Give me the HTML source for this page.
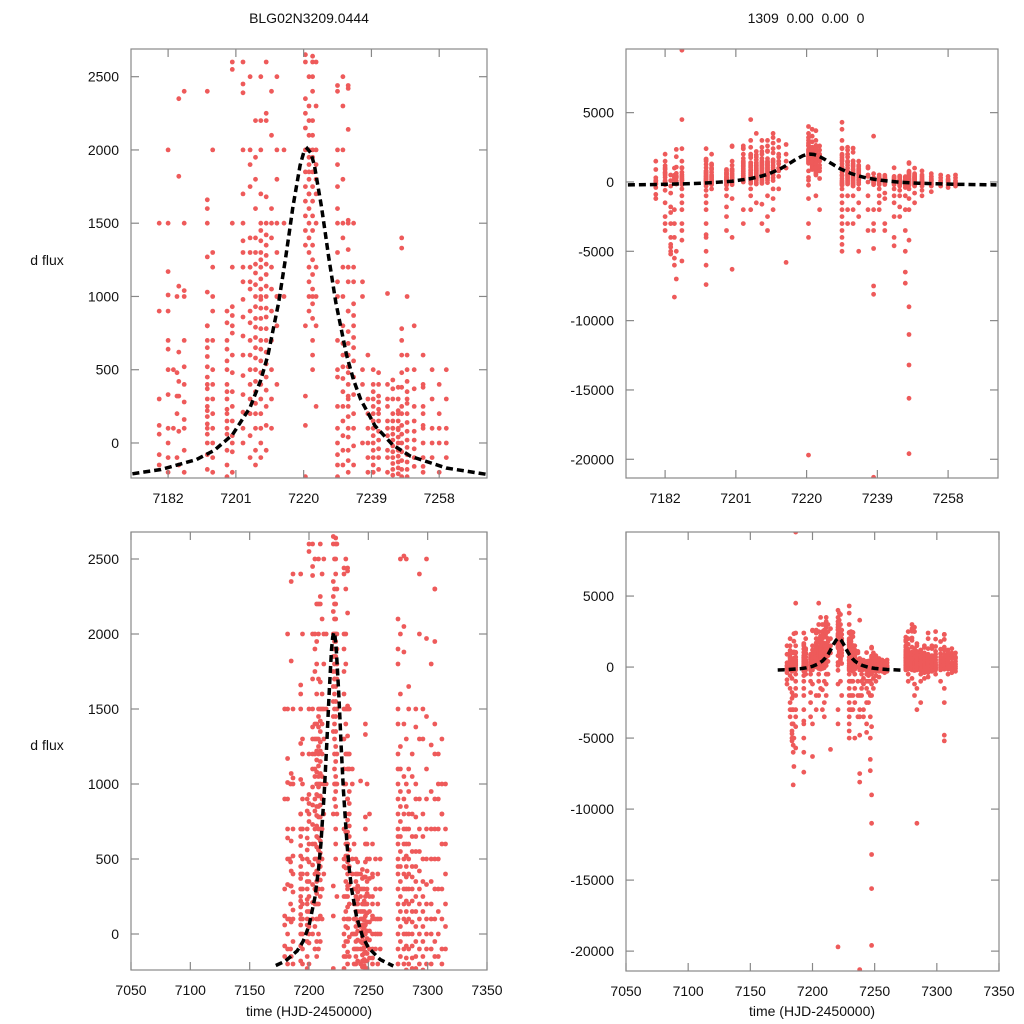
<!DOCTYPE html>
<html><head><meta charset="utf-8"><style>
html,body{margin:0;padding:0;background:#fff;width:1024px;height:1024px;overflow:hidden;position:relative}
svg{display:block;position:absolute;left:0;top:0;overflow:hidden}
text{font-family:"Liberation Sans",sans-serif;font-size:14px;fill:#111}
</style></head><body>
<svg id="chart" width="1024" height="1024" viewBox="0 0 1024 1024" xmlns="http://www.w3.org/2000/svg">
<text x="309" y="23" text-anchor="middle">BLG02N3209.0444</text>
<text x="806" y="23" text-anchor="middle" xml:space="preserve">1309  0.00  0.00  0</text>
<text x="47" y="265" text-anchor="middle">d flux</text>
<text x="47" y="750" text-anchor="middle">d flux</text>
<text x="309" y="1016" text-anchor="middle">time (HJD-2450000)</text>
<text x="812" y="1016" text-anchor="middle">time (HJD-2450000)</text>
</svg>
<script>
const stripeTimes=[7179.5,7182,7183.5,7184.5,7185,7186.5,7193,7194.5,7198.5,7200,7203,7205,7206.5,7208,7209.5,7211,7212.5,7214.5,7220.5,7221.5,7222.5,7223.5,7229.5,7231,7232.5,7234,7236.5,7238,7239.5,7241,7243.5,7245,7246.5,7247.5,7249,7251,7253.5,7256,7258,7260,
7275,7277,7280,7282,7284,7287,7290,7293,7296,7299,7303,7306,7309,7312,7315];
const stripeFlux=[
[-80,60,120,-150,-900,-400,300,900,-1200,1500],
[1500,1170,1010,640,330,100,0,-100,-200,-600,-1500,-2500,-3000,-3500,2000,500,700,900],
[-1800,-3000,-4000,-4700,-5000,-5200,-4500,-2200,-300,100,500,-800],
[320,480,200,-100,-2000,-3000,-4000,-5500,-6000,-8300,1000],
[1820,1070,420,620,320,80,-150,2350,-5000,-7000],
[9500,4500,2400,1500,1000,700,400,100,-200,-500,-1000,-1500,-2000,-3000,-3500,-4200,-5700,1040,520,280,160,-50],
[2400,1660,1600,1270,1030,800,700,590,450,370,300,220,180,130,60,0,-80,-180,800,650,520,400,250,100,-300,-600,-1000,-1500,-2000,-3000,-3800,-4000,-5000,-6000,-7400,1500],
[1000,900,700,500,300,100,-100,1300,2000,400,200,0,-500,1200,-200],
[640,560,500,400,300,230,150,60,-50,-150,-230,820,900,700,350,200,100,-2500,-1800,-3500,-1000,-500],
[2600,2550,870,750,600,480,350,250,150,50,-60,-200,930,-1200,-4000,-6300,0,800,1500,1200],
[2600,2450,2390,1500,1380,1200,1100,980,860,730,600,460,330,210,100,0,1300,-3000,-2000,1700,2000],
[2000,1900,1750,1400,1300,1200,1100,1050,900,820,700,600,500,400,300,200,50,-100,4500,3000,2500,-500,-1000,-2000],
[1950,1600,1400,1300,1220,1160,1080,1000,930,850,790,720,650,580,500,420,350,270,200,100,-50,-150,2200,3500,1800,-1500],
[2200,2000,1700,1500,1450,1380,1300,1250,1200,1120,1050,980,920,850,780,700,640,560,480,400,300,200,100,0,-100,-3000,-1600,1000,2500,3000],
[2250,1680,1500,1420,1350,1280,1220,1150,1070,1000,920,860,780,700,620,540,450,360,250,120,-50,3000,2600,2200,-2500,-3500,-1000],
[2400,2100,1600,1400,1200,1050,900,700,500,300,100,2800,3200,3500,1500,-500,-1200,-2000],
[1800,1300,1000,800,400,2000,2500,3000,1000,-500,1500],
[-5800,2000,1500,2700,1000],
[2650,2600,2350,2250,2150,1850,1750,1650,1550,1450,1350,800,320,120,-230,3000,3500,4000,3200,2800,-1200,-3000,-4000,-19700,2000],
[2500,2300,2200,2000,1900,1800,1700,1600,1500,1400,1300,1200,1100,1000,900,1950,1850,3800,3300,2900,1700,2100],
[2640,2600,2400,2200,2100,1950,1850,1750,1650,1550,1450,1350,1250,1150,1050,950,850,700,600,500,3700,3000,2500,2000,1000,-1000],
[1900,1700,1500,1200,1000,800,250,2600,2300,2000,-2000,1800],
[2440,2400,1900,1750,1600,1300,1100,700,450,250,100,-80,-150,-230,4300,3800,3000,2000,1500,1000,500,0,-500,-1000,-1500,-2000,-2500,-3000,-3500,-4000,-4500,-5000],
[2300,1400,1200,1000,800,680,600,520,440,350,250,150,50,-50,-150,1500,1800,2000,2500,-1000,-2000,-3000],
[2440,2420,2140,1520,1320,1100,900,760,680,600,520,480,400,320,250,180,100,40,-50,-120,-200,1500,1200,900,600,300,-300,-1000,-2000,-3000],
[1100,950,870,800,720,650,560,450,330,200,100,-20,-150,1500,1200,-500,-1500,-2500,-5000],
[1100,400,1000,500,0,-1000,-2000,-3500],
[3300,600,300,200,100,0,-100,-200,-2000,-3000,-3500,-4800,-7500,-8100,-21300],
[400,350,300,250,200,150,100,50,0,-50,-100,-150,-200,500,-500,-1000,-1500,-2000],
[480,320,280,230,200,150,80,20,-40,-100,-180,400,-800,-1200,-3000,-3500],
[1020,400,250,150,100,50,-50,-100,-200,300,-500,-1000,-1500,-2500,-4000,-4600],
[430,370,300,200,150,100,60,20,-20,-60,-100,-140,-180,-220,100,-300,-600,-1000,-1800,-2500],
[380,300,220,150,90,40,0,-50,-90,-130,-170,-210,200,100,-400,-1000,-2000,-3500,-5000,-6500,-7300],
[1330,780,700,600,480,380,250,200,120,60,0,-60,-120,-180,-230,1400,-500,-1200,-2000,-4200,-9000,-11000,-13200,-15600,-19600],
[500,420,350,270,200,140,80,20,-30,-80,-130,-180,-230,600,1000,300,-300,-800,-1500],
[370,250,150,80,20,-40,-100,-160,500,800,-300,-600,-1000],
[380,250,120,0,-100,-160,-200,200,400,600,100,-300,-700],
[300,100,0,-100,500,-300],
[200,0,-200,400,-400,100],
[100,-100,300,-300,0,500],
[2100,1900,1800,1500,1400,1200,1000,800,700,600,500,400,300,200,100,0,-100,-200,1100,900,650,450],
[1600,1250,1100,950,850,750,650,550,450,350,250,150,50,-50,-150,2000,2500,-500,-1000],
[2520,2050,1880,1400,1050,900,800,700,600,500,400,300,200,100,0,-100,-200,2700,3000,-800],
[2500,1300,1000,850,700,600,520,450,380,300,220,150,80,0,-80,-160,-240,2800,-1200,-2000],
[1650,1100,950,800,700,600,500,400,300,200,100,0,-100,-200,-1500,-3000,-11000,1500],
[1050,800,650,550,450,380,300,220,150,80,0,-80,-160,-230,1200,-500,-1000,-2500],
[1380,1000,900,780,650,550,450,350,250,150,50,-50,-150,-230,1500,-400,-800],
[2400,1300,900,700,550,420,300,200,100,0,-100,-200,-400,-700,2000],
[1300,800,650,500,350,250,150,50,-50,-150,-240,1500,-300],
[1970,1450,1100,900,700,500,330,200,100,0,-100,-200,-500,2500],
[1260,950,700,500,350,200,100,0,-100,-200,1800,-1000],
[2300,1950,1400,1200,900,700,500,300,100,-50,-150,-1500,-2500,-4800,-5200,2300],
[1200,900,700,500,300,150,0,-150,1000,-500],
[1300,1000,800,600,300,100,-100,-200,800,-400],
[1000,700,400,200,50,-100,600,-300]];
const modelTimes=[7172,7180,7190,7195,7200,7205,7208,7210,7213,7215,7216,7217,7219,7220,7221,7222,7223,7225,7226,7227,7229,7232,7234,7236,7240,7245,7250,7260,7271];
const modelFlux=[-210,-181,-113,-49,55,243,429,601,960,1272,1442,1611,1895,1980,2010,1980,1895,1611,1442,1272,960,601,429,297,117,-14,-91,-171,-213];
const topXTicks=[7182,7201,7220,7239,7258];
const bottomXTicks=[7050,7100,7150,7200,7250,7300,7350];
const leftYTicks=[0,500,1000,1500,2000,2500];
const rightYTicks=[5000,0,-5000,-10000,-15000,-20000];

const NS='http://www.w3.org/2000/svg';
const svg=document.getElementById('chart');
function mk(tag,attrs,parent){const e=document.createElementNS(NS,tag);for(const k in attrs)e.setAttribute(k,attrs[k]);(parent||svg).appendChild(e);return e;}
const panels=[
{id:'top-left',x0:131,x1:487,y0:49,y1:478,xd:[7171.6,7271.4],yd:[-239,2689],xt:topXTicks,yt:leftYTicks},
{id:'top-right',x0:626,x1:998,y0:49,y1:478,xd:[7171.5,7271.4],yd:[-21350,9590],xt:topXTicks,yt:rightYTicks},
{id:'bottom-left',x0:131,x1:487,y0:532,y1:970,xd:[7050,7350],yd:[-240,2680],xt:bottomXTicks,yt:leftYTicks},
{id:'bottom-right',x0:626,x1:999,y0:532,y1:971,xd:[7050,7350],yd:[-21400,9510],xt:bottomXTicks,yt:rightYTicks}];
panels.forEach(p=>{
  const sx=t=>p.x0+(t-p.xd[0])/(p.xd[1]-p.xd[0])*(p.x1-p.x0);
  const sy=v=>p.y1-(v-p.yd[0])/(p.yd[1]-p.yd[0])*(p.y1-p.y0);
  const g=mk('g',{});
  
  
  const cp=mk('clipPath',{id:'clip-'+p.id},g);
  mk('rect',{x:p.x0,y:p.y0,width:p.x1-p.x0,height:p.y1-p.y0},cp);
  const pts=mk('g',{'clip-path':'url(#clip-'+p.id+')',fill:'#ee5a5a'},g);
  
  
  stripeTimes.forEach((t,i)=>{
    if(t<p.xd[0]||t>p.xd[1])return;
    stripeFlux[i].forEach(v=>{
    if(v<p.yd[0]-100*(p.yd[1]-p.yd[0])/(p.y1-p.y0)*0.02||v>p.yd[1])return;
    const c=mk('circle',{cx:sx(t).toFixed(1),cy:sy(v).toFixed(1),r:2.4},pts);
    
    
  });});
  const d=modelTimes.map((t,i)=>(i?'L':'M')+sx(t).toFixed(1)+' '+sy(modelFlux[i]).toFixed(1)).join(' ');
  const ml=mk('path',{d:d,fill:'none',stroke:'#000','stroke-width':3.5,'stroke-dasharray':'7 4','clip-path':'url(#clip-'+p.id+')'},g);
  
  
  const fr=mk('rect',{x:p.x0,y:p.y0,width:p.x1-p.x0,height:p.y1-p.y0,fill:'none',stroke:'#888','stroke-width':1.2},g);
  
  
  p.xt.forEach(t=>{const x=sx(t);
    mk('line',{x1:x,x2:x,y1:p.y1,y2:p.y1-8,stroke:'#888','stroke-width':1.2},g);
    mk('line',{x1:x,x2:x,y1:p.y0,y2:p.y0+8,stroke:'#888','stroke-width':1.2},g);
    const tx=mk('text',{x:x,y:p.y1+25,'text-anchor':'middle'},g);tx.textContent=t;
    
    
  });
  p.yt.forEach(v=>{const y=sy(v);
    mk('line',{x1:p.x0,x2:p.x0+8,y1:y,y2:y,stroke:'#888','stroke-width':1.2},g);
    mk('line',{x1:p.x1,x2:p.x1-8,y1:y,y2:y,stroke:'#888','stroke-width':1.2},g);
    const ty=mk('text',{x:p.x0-12,y:y+5,'text-anchor':'end'},g);ty.textContent=v;
    
    
  });
});
</script>
</body></html>
